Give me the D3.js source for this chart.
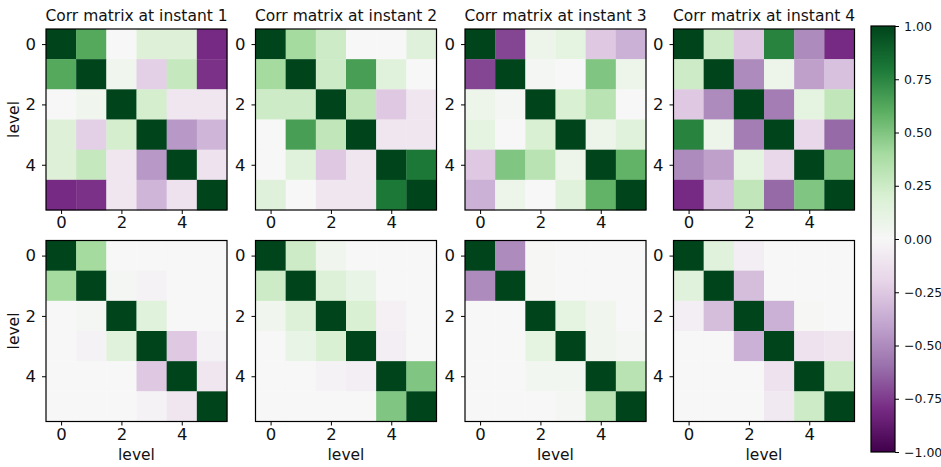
<!DOCTYPE html>
<html>
<head>
<meta charset="utf-8">
<script src="https://cdn.jsdelivr.net/npm/d3@7"></script>
<style>
  html, body { margin: 0; padding: 0; background: #fff; }
  svg { display: block; font-family: "DejaVu Sans", sans-serif; }
</style>
</head>
<body>
<svg id="chart" width="941" height="467"></svg>
<script>
// ---------- data ----------
const levels = [0, 1, 2, 3, 4, 5];
const tickLabels = [0, 2, 4];
const titles = ["Corr matrix at instant 1", "Corr matrix at instant 2", "Corr matrix at instant 3", "Corr matrix at instant 4"];
const cbTicks = [1.00, 0.75, 0.50, 0.25, 0.00, -0.25, -0.50, -0.75, -1.00];

// top row: sample correlation matrices
const corr1 = [
  [ 1.00,  0.62,  0.00,  0.17,  0.17, -0.80],
  [ 0.62,  1.00,  0.05, -0.22,  0.28, -0.78],
  [ 0.00,  0.05,  1.00,  0.22, -0.10, -0.10],
  [ 0.17, -0.22,  0.22,  1.00, -0.45, -0.33],
  [ 0.17,  0.28, -0.10, -0.45,  1.00, -0.12],
  [-0.80, -0.78, -0.10, -0.33, -0.12,  1.00]
];
const corr2 = [
  [ 1.00,  0.40,  0.25,  0.00,  0.00,  0.16],
  [ 0.40,  1.00,  0.25,  0.66,  0.15,  0.00],
  [ 0.25,  0.25,  1.00,  0.30, -0.25, -0.10],
  [ 0.00,  0.66,  0.30,  1.00, -0.10, -0.10],
  [ 0.00,  0.15, -0.25, -0.10,  1.00,  0.80],
  [ 0.16,  0.00, -0.10, -0.10,  0.80,  1.00]
];
const corr3 = [
  [ 1.00, -0.72,  0.07,  0.12, -0.25, -0.35],
  [-0.72,  1.00,  0.02,  0.00,  0.50,  0.07],
  [ 0.07,  0.02,  1.00,  0.20,  0.32,  0.00],
  [ 0.12,  0.00,  0.20,  1.00,  0.07,  0.15],
  [-0.25,  0.50,  0.32,  0.07,  1.00,  0.58],
  [-0.35,  0.07,  0.00,  0.15,  0.58,  1.00]
];
const corr4 = [
  [ 1.00,  0.25, -0.25,  0.76, -0.50, -0.80],
  [ 0.25,  1.00, -0.50,  0.07, -0.42, -0.28],
  [-0.25, -0.50,  1.00, -0.55,  0.12,  0.30],
  [ 0.76,  0.07, -0.55,  1.00, -0.18, -0.62],
  [-0.50, -0.42,  0.12, -0.18,  1.00,  0.50],
  [-0.80, -0.28,  0.30, -0.62,  0.50,  1.00]
];
// bottom row: estimated (shrunk) correlation matrices
const est1 = [
  [ 1.00,  0.40,  0.00,  0.00,  0.00,  0.00],
  [ 0.40,  1.00,  0.03, -0.03,  0.00,  0.00],
  [ 0.00,  0.03,  1.00,  0.15,  0.00,  0.00],
  [ 0.00, -0.03,  0.15,  1.00, -0.25, -0.03],
  [ 0.00,  0.00,  0.00, -0.25,  1.00, -0.10],
  [ 0.00,  0.00,  0.00, -0.03, -0.10,  1.00]
];
const est2 = [
  [ 1.00,  0.25,  0.05,  0.00,  0.00,  0.00],
  [ 0.25,  1.00,  0.18,  0.10,  0.00,  0.00],
  [ 0.05,  0.18,  1.00,  0.20, -0.04,  0.00],
  [ 0.00,  0.10,  0.20,  1.00, -0.05,  0.00],
  [ 0.00,  0.00, -0.03, -0.05,  1.00,  0.50],
  [ 0.00,  0.00,  0.00,  0.00,  0.50,  1.00]
];
const est3 = [
  [ 1.00, -0.50,  0.01,  0.00,  0.00,  0.00],
  [-0.50,  1.00,  0.01,  0.00,  0.00,  0.00],
  [ 0.00,  0.00,  1.00,  0.12,  0.05,  0.00],
  [ 0.00,  0.00,  0.12,  1.00,  0.05,  0.03],
  [ 0.00,  0.00,  0.04,  0.04,  1.00,  0.32],
  [ 0.00,  0.00,  0.00,  0.02,  0.32,  1.00]
];
const est4 = [
  [ 1.00,  0.15, -0.05,  0.00,  0.00,  0.00],
  [ 0.15,  1.00, -0.30,  0.00,  0.00,  0.00],
  [-0.05, -0.30,  1.00, -0.35,  0.01,  0.00],
  [ 0.00,  0.00, -0.35,  1.00, -0.12, -0.10],
  [ 0.00,  0.00,  0.00, -0.12,  1.00,  0.25],
  [ 0.00,  0.00,  0.00, -0.08,  0.25,  1.00]
];
const topRow = [corr1, corr2, corr3, corr4];
const bottomRow = [est1, est2, est3, est4];

// ---------- layout ----------
const svg = d3.select("#chart");
const size = 181;
const colX = [46, 255.5, 465, 673.5];
const rowY = [29, 240.5];
const tickFont = 16.5;

// piecewise-linear PRGn (like matplotlib's segmented colormap)
const prgn = d3.schemePRGn[11];
const color = d3.scaleLinear()
  .domain(d3.range(11).map(i => -1 + i * 0.2))
  .range(prgn)
  .interpolate(d3.interpolateRgb)
  .clamp(true);
const band = d3.scaleBand().domain(levels).range([0, size]);
const pos = d3.scaleLinear().domain([-0.5, 5.5]).range([0, size]);

function drawPanel(mat, px, py, title, showYLabel, showXLabel) {
  const g = svg.append("g").attr("transform", `translate(${px},${py})`);
  const cells = [];
  mat.forEach((row, i) => row.forEach((v, j) => cells.push({ i, j, v })));
  g.selectAll("rect.cell").data(cells).enter().append("rect")
    .attr("class", "cell")
    .attr("x", d => band(d.j))
    .attr("y", d => band(d.i))
    .attr("width", band.bandwidth() + 0.3)
    .attr("height", band.bandwidth() + 0.3)
    .attr("fill", d => color(d.v));

  const xAxis = d3.axisBottom(pos).tickValues(tickLabels).tickSize(4).tickPadding(2.5).tickFormat(d3.format("d"));
  const yAxis = d3.axisLeft(pos).tickValues(tickLabels).tickSize(4).tickPadding(6).tickFormat(d3.format("d"));
  const xa = g.append("g").attr("transform", `translate(0,${size})`).call(xAxis);
  const ya = g.append("g").call(yAxis);
  [xa, ya].forEach(a => {
    a.attr("font-size", null).attr("font-family", null);
    a.select(".domain").remove();
    a.selectAll("line").attr("stroke", "#000").attr("stroke-width", 1);
    a.selectAll("text").attr("fill", "#111").style("font-size", tickFont + "px").style("font-family", "DejaVu Sans");
  });

  g.append("rect").attr("x", 0).attr("y", 0).attr("width", size).attr("height", size)
    .attr("fill", "none").attr("stroke", "#000").attr("stroke-width", 1.2);

  if (title) {
    g.append("text").attr("x", size / 2).attr("y", -8).attr("text-anchor", "middle")
      .style("font-size", "15.5px").attr("fill", "#111").text(title);
  }
  if (showYLabel) {
    g.append("text").attr("transform", `translate(-27,${size / 2}) rotate(-90)`)
      .attr("text-anchor", "middle").style("font-size", "15.5px").attr("fill", "#111").text("level");
  }
  if (showXLabel) {
    g.append("text").attr("x", size / 2).attr("y", size + 38).attr("text-anchor", "middle")
      .style("font-size", "15.5px").attr("fill", "#111").text("level");
  }
}

topRow.forEach((m, k) => drawPanel(m, colX[k], rowY[0], titles[k], k === 0, false));
bottomRow.forEach((m, k) => drawPanel(m, colX[k], rowY[1], null, k === 0, true));

// ---------- colorbar ----------
const cbX = 871, cbW = 24, cbTop = 26, cbBot = 452;
const cbScale = d3.scaleLinear().domain([-1, 1]).range([cbBot, cbTop]);
const defs = svg.append("defs");
const grad = defs.append("linearGradient").attr("id", "cbgrad")
  .attr("x1", 0).attr("y1", 1).attr("x2", 0).attr("y2", 0);
prgn.forEach((c, i) => {
  grad.append("stop").attr("offset", i / 10).attr("stop-color", c);
});
svg.append("rect").attr("x", cbX).attr("y", cbTop).attr("width", cbW).attr("height", cbBot - cbTop)
  .attr("fill", "url(#cbgrad)").attr("stroke", "#000").attr("stroke-width", 1.2);
const cbAxis = d3.axisRight(cbScale).tickValues(cbTicks).tickSize(4).tickPadding(5)
  .tickFormat(d => d3.format(".2f")(d).replace("-", "\u2212"));
const cba = svg.append("g").attr("transform", `translate(${cbX + cbW},0)`).call(cbAxis);
cba.attr("font-size", null).attr("font-family", null);
cba.select(".domain").remove();
cba.selectAll("line").attr("stroke", "#000");
cba.selectAll("text").attr("fill", "#111").style("font-size", "12.5px").style("font-family", "DejaVu Sans");
</script>
</body>
</html>
